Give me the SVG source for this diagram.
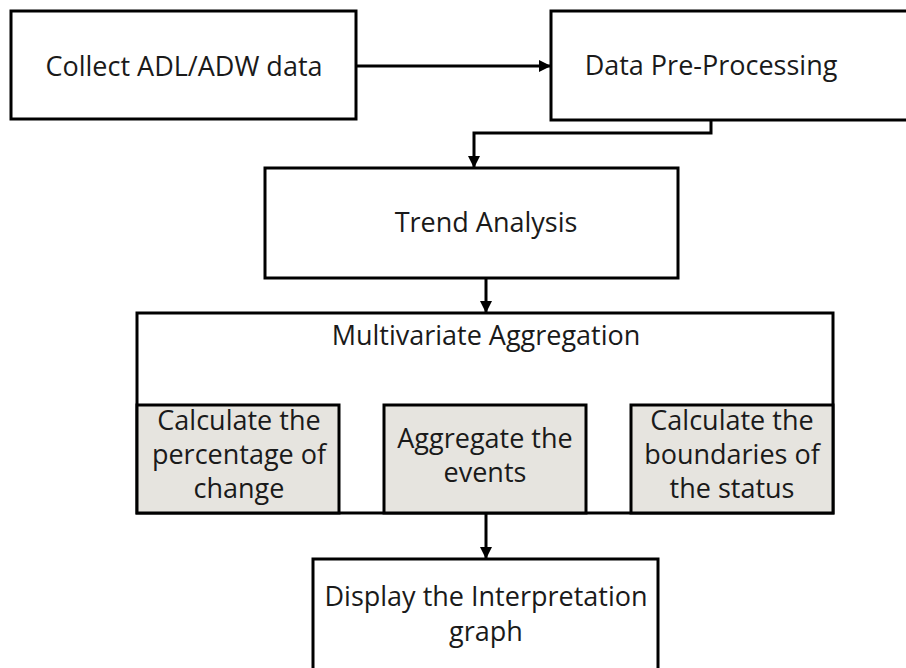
<svg xmlns="http://www.w3.org/2000/svg" width="906" height="668" viewBox="0 0 906 668">
  <style>
    .box { fill: #ffffff; stroke: #000000; stroke-width: 3; }
    .sub { fill: #e6e4df; stroke: #000000; stroke-width: 3; }
    .lbl { font-family: "Open Sans", "Noto Sans", "Liberation Sans", sans-serif; font-size: 27px; fill: #1a1a1a; text-anchor: middle; }
    .wire { fill: none; stroke: #000000; stroke-width: 3; }
  </style>
  <defs>
    <marker id="head" viewBox="0 0 12 12" refX="12" refY="6" markerWidth="12" markerHeight="12" markerUnits="userSpaceOnUse" orient="auto">
      <path d="M0,0 L12,6 L0,12 Z" fill="#000000"/>
    </marker>
  </defs>
  <rect width="906" height="668" fill="#ffffff"/>

  <g id="collect">
    <rect class="box" x="11" y="11" width="345" height="108"/>
    <text class="lbl" x="184" y="76">Collect ADL/ADW data</text>
  </g>

  <g id="preprocess">
    <rect class="box" x="551" y="11" width="370" height="109"/>
    <text class="lbl" x="711" y="75">Data Pre-Processing</text>
  </g>

  <g id="trend">
    <rect class="box" x="265" y="168" width="413" height="110"/>
    <text class="lbl" x="486" y="232">Trend Analysis</text>
  </g>

  <g id="aggregation">
    <rect class="box" x="137" y="313" width="696" height="200"/>
    <text class="lbl" x="486" y="345">Multivariate Aggregation</text>
    <g id="percentage">
      <rect class="sub" x="137" y="405" width="202" height="108"/>
      <text class="lbl" x="239" y="430">Calculate the</text>
      <text class="lbl" x="239" y="464">percentage of</text>
      <text class="lbl" x="239" y="498">change</text>
    </g>
    <g id="events">
      <rect class="sub" x="384" y="405" width="202" height="108"/>
      <text class="lbl" x="485" y="448">Aggregate the</text>
      <text class="lbl" x="485" y="482">events</text>
    </g>
    <g id="boundaries">
      <rect class="sub" x="631" y="405" width="202" height="108"/>
      <text class="lbl" x="732" y="430">Calculate the</text>
      <text class="lbl" x="732" y="464">boundaries of</text>
      <text class="lbl" x="732" y="498">the status</text>
    </g>
  </g>

  <g id="display">
    <rect class="box" x="313" y="559" width="345" height="130"/>
    <text class="lbl" x="486" y="606">Display the Interpretation</text>
    <text class="lbl" x="486" y="641">graph</text>
  </g>

  <g id="connectors">
    <path class="wire" d="M356,66 H551" marker-end="url(#head)"/>
    <path class="wire" d="M711,120 V133 H474 V168" marker-end="url(#head)"/>
    <path class="wire" d="M486,278 V313" marker-end="url(#head)"/>
    <path class="wire" d="M486,513 V559" marker-end="url(#head)"/>
  </g>
</svg>
